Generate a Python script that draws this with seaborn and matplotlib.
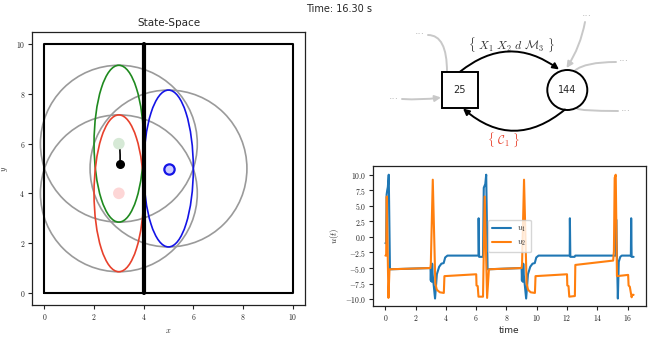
import numpy as np
import pandas as pd
import matplotlib
matplotlib.use("Agg")
import matplotlib.pyplot as plt
import seaborn as sns
from matplotlib.patches import Ellipse, Rectangle, Circle, FancyArrowPatch
from matplotlib.ticker import FuncFormatter, MultipleLocator

# ---------------- data ----------------
sim_time = 16.30

# state-space
region_centers_x = [3, 3, 5]
region_centers_y = [6, 4, 5]
region_radius = [3.16, 3.16, 3.16]
ellipse_colors = ["#1f8a1f", "#e8412c", "#1414e6"]
ellipse_semi_x = [1.0, 1.0, 1.0]
ellipse_semi_y = [3.16, 3.16, 3.16]
goal_x = [3, 3]
goal_y = [6, 4]
goal_colors = ["#d6e9d6", "#fdd6d6"]
obstacle_x = [5]
obstacle_y = [5]
traj_x = [2.97, 2.99, 3.04, 3.05, 3.05]
traj_y = [5.95, 5.86, 5.78, 5.55, 5.20]
box_x = [0, 10, 10, 0, 0]
box_y = [0, 0, 10, 10, 0]
wall_x = [4, 4]
wall_y = [0, 10]

# control signals
u1_t = [0.00, 0.05, 0.08, 0.12, 0.16, 0.22, 0.30, 2.98, 3.00, 3.03, 3.06, 3.09, 3.12,
        3.28, 3.40, 3.55, 3.70, 3.85, 3.95, 4.10, 6.15, 6.16, 6.19, 6.45, 6.50, 6.60,
        6.66, 6.75, 9.00, 9.02, 9.05, 9.08, 9.11, 9.14, 9.30, 9.42, 9.57, 9.72, 9.87,
        9.97, 10.12, 12.18, 12.19, 12.22, 12.50, 12.55, 15.22, 15.25, 15.36, 15.42,
        15.52, 15.62, 16.22, 16.24, 16.27, 16.40]
u1_v = [-1.0, -1.0, 6.8, 7.5, 8.0, 10.0, -5.2, -5.0, -7.0, -4.5, -7.2, -4.3, -6.0,
        -9.9, -6.0, -4.8, -4.3, -4.2, -3.3, -3.0, -3.0, 3.0, -3.2, -3.2, 7.9, 8.5,
        10.0, -5.2, -5.0, -7.0, -4.5, -7.2, -4.3, -6.0, -9.9, -6.0, -4.8, -4.3, -4.2,
        -3.3, -3.0, -3.0, 3.0, -3.2, -3.2, -3.0, -3.0, 2.8, -9.9, -4.0,
        -3.2, -3.0, -3.0, 3.0, -3.2, -3.2]
u2_t = [0.00, 0.05, 0.09, 0.20, 0.27, 2.97, 3.00, 3.13, 3.30, 3.40, 3.60, 3.86, 3.90,
        6.00, 6.02, 6.10, 6.15, 6.45, 6.56, 6.72, 6.84, 9.00, 9.03, 9.16, 9.33, 9.43,
        9.60, 9.88, 9.92, 12.00, 12.02, 12.10, 12.15, 12.52, 12.55, 15.05, 15.10,
        15.15, 15.22, 15.30, 16.04, 16.07, 16.15, 16.27, 16.32, 16.40]
u2_v = [-3.0, -3.0, 6.5, -9.8, -5.2, -5.0, -4.4, 9.2, -7.5, -8.5, -8.9, -9.0, -6.3,
        -6.0, -7.8, -7.9, -9.6, -9.6, 6.5, -9.8, -5.2, -5.0, -4.4, 9.2, -7.5, -8.5,
        -8.9, -9.0, -6.3, -6.0, -7.8, -7.9, -9.6, -9.5, -4.5, -3.8, -2.3,
        9.5, 10.0, -6.3, -6.1, -7.8, -8.0, -9.7, -9.3, -9.3]
series_labels = ["$u_1$", "$u_2$"]
series_colors = ["#1f77b4", "#ff7f0e"]

# graph
node_labels = ["25", "144"]
edge_labels = [r"$\{\ X_1\ X_2\ d\ \mathcal{M}_3\ \}$", r"$\{\ \mathcal{C}_1\ \}$"]
edge_label_colors = ["#333333", "#e8412c"]

# ---------------- style ----------------
sns.set_theme(style="ticks")
plt.rcParams["font.family"] = ["DejaVu Sans"]
plt.rcParams["mathtext.fontset"] = "cm"
plt.rcParams["axes.edgecolor"] = "#222222"
plt.rcParams["xtick.color"] = "#222222"
plt.rcParams["ytick.color"] = "#222222"

W, H = 664, 340
fig = plt.figure(figsize=(W / 100, H / 100), dpi=100)
fig.text(339.5 / W, 1 - 9 / H, f"Time: {sim_time:.2f} s", ha="center", va="center", fontsize=7)

def px_axes(x0, y0, x1, y1):
    return fig.add_axes([x0 / W, 1 - y1 / H, (x1 - x0) / W, (y1 - y0) / H])

tickfmt_int = FuncFormatter(lambda v, p: f"${v:g}$")
tickfmt_1f = FuncFormatter(lambda v, p: f"${v:.1f}$")

# ---------------- state space ----------------
ax = px_axes(32, 32, 305, 305)
ax.set_xlim(-0.5, 10.5)
ax.set_ylim(-0.5, 10.5)
for cx, cy, r in zip(region_centers_x, region_centers_y, region_radius):
    ax.add_patch(Ellipse((cx, cy), 2 * r, 2 * r, fill=False, ec="#9a9a9a", lw=1.2))
for cx, cy, sx, sy, c in zip(region_centers_x, region_centers_y, ellipse_semi_x, ellipse_semi_y, ellipse_colors):
    ax.add_patch(Ellipse((cx, cy), 2 * sx, 2 * sy, fill=False, ec=c, lw=1.2))
sns.lineplot(x=box_x, y=box_y, sort=False, estimator=None, color="black", lw=1.5, ax=ax)
sns.lineplot(x=wall_x, y=wall_y, sort=False, estimator=None, color="black", lw=3, ax=ax)
ax.scatter(goal_x, goal_y, s=70, c=goal_colors, edgecolors="none", zorder=3)
ax.scatter(obstacle_x, obstacle_y, s=55, c="#ccccff", edgecolors="#1414e6", linewidths=1.6, zorder=3)
sns.lineplot(x=traj_x, y=traj_y, sort=False, estimator=None, color="black", lw=1.2, ax=ax)
ax.scatter(traj_x[-1:], traj_y[-1:], s=30, c="black", zorder=4)
ax.set_title("State-Space", fontsize=7.5, pad=4)
ax.set_xlabel("$x$", fontsize=6, labelpad=3)
ax.set_ylabel("$y$", fontsize=6, labelpad=4)
ax.xaxis.set_major_locator(MultipleLocator(2))
ax.yaxis.set_major_locator(MultipleLocator(2))
ax.xaxis.set_major_formatter(tickfmt_int)
ax.yaxis.set_major_formatter(tickfmt_int)
ax.tick_params(labelsize=5.5, length=3, width=0.8, pad=2)
for s in ax.spines.values():
    s.set_linewidth(0.9)

# ---------------- time series ----------------
df = pd.concat([
    pd.DataFrame({"time": u1_t, "u": u1_v, "signal": series_labels[0]}),
    pd.DataFrame({"time": u2_t, "u": u2_v, "signal": series_labels[1]}),
])
ax2 = px_axes(373, 166, 646, 306)
sns.lineplot(data=df, x="time", y="u", hue="signal", palette=series_colors,
             estimator=None, sort=False, lw=1.5, ax=ax2)
ax2.set_ylim(-11.1, 11.4)
ax2.set_xlabel("time", fontsize=6.5, labelpad=2)
ax2.set_ylabel("$u(t)$", fontsize=6.5, labelpad=3)
ax2.xaxis.set_major_locator(MultipleLocator(2))
ax2.yaxis.set_major_locator(MultipleLocator(2.5))
ax2.xaxis.set_major_formatter(tickfmt_int)
ax2.yaxis.set_major_formatter(tickfmt_1f)
ax2.tick_params(labelsize=5.5, length=3, width=0.8, pad=2)
for s in ax2.spines.values():
    s.set_linewidth(0.9)
leg = ax2.legend(loc="center", fontsize=6, title=None, handlelength=2.2, borderpad=0.5,
                 labelspacing=0.4, framealpha=0.8)

# ---------------- graph diagram ----------------
axd = px_axes(330, 0, 664, 160)
axd.set_xlim(330, 664)
axd.set_ylim(160, 0)
axd.axis("off")
sq_c = (460, 90)
sq_s = 36.5
ci_c = (567.3, 90)
ci_r = 20
axd.add_patch(Rectangle((sq_c[0] - sq_s / 2, sq_c[1] - sq_s / 2), sq_s, sq_s, fill=False, ec="black", lw=1.4, zorder=3))
axd.add_patch(Circle(ci_c, ci_r, fill=False, ec="black", lw=1.4, zorder=3))
axd.text(sq_c[0], sq_c[1], node_labels[0], ha="center", va="center", fontsize=7)
axd.text(ci_c[0], ci_c[1], node_labels[1], ha="center", va="center", fontsize=7)

gray = "#c8c8c8"
def arrow(p0, p1, style, conn, color, lw, ms=9, z=2):
    axd.add_patch(FancyArrowPatch(p0, p1, arrowstyle=style, connectionstyle=conn, color=color,
                                  lw=lw, mutation_scale=ms, shrinkA=0, shrinkB=0, zorder=z))

arrow((460, 71.7), (559, 69.5), "-|>", "arc3,rad=-0.38", "black", 1.4)
arrow((565, 109.5), (463, 108.5), "-|>", "arc3,rad=-0.42", "black", 1.4)
arrow((402, 99), (441, 97.5), "-|>", "arc3,rad=0.05", gray, 1.4)
arrow((428, 35), (447, 71.7), "-", "angle3,angleA=0,angleB=90", gray, 1.4)
arrow((585, 22), (566.5, 68), "-|>", "arc3,rad=-0.1", gray, 1.4)
arrow((575, 70.5), (616, 62), "-", "angle3,angleA=40,angleB=0", gray, 1.4)
arrow((577, 108.5), (618, 111), "-", "angle3,angleA=-40,angleB=0", gray, 1.4)
for (tx, ty) in [(394, 99.5), (420, 34), (587, 16), (624, 61.5), (626, 111)]:
    axd.text(tx, ty, "···", ha="center", va="center", fontsize=7.5, color="#bbbbbb")
axd.text(511.7, 45, edge_labels[0], ha="center", va="center", fontsize=8.5, color=edge_label_colors[0])
axd.text(503, 140, edge_labels[1], ha="center", va="center", fontsize=8.5, color=edge_label_colors[1])

fig.savefig("out.png", dpi=100)
